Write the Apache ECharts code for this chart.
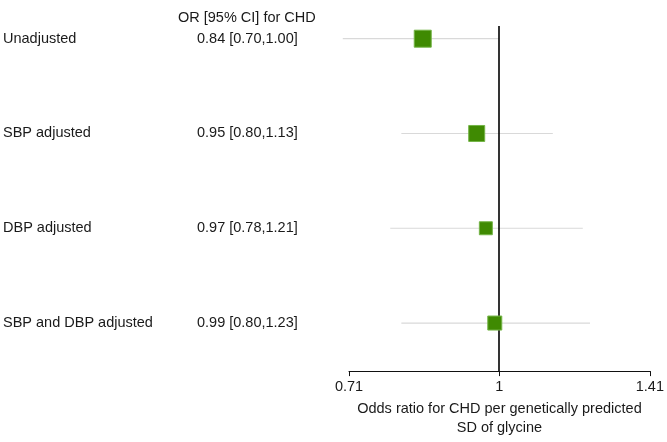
<!DOCTYPE html>
<html><head><meta charset="utf-8">
<script src="https://cdn.jsdelivr.net/npm/echarts@6/dist/echarts.min.js"></script>
<style>html,body{margin:0;padding:0;background:#fff}#c{width:667px;height:442px}</style>
</head><body><div id="c"></div>
<script>
const rowLabels = ['Unadjusted', 'SBP adjusted', 'DBP adjusted', 'SBP and DBP adjusted'];
const orValues = [0.84, 0.95, 0.97, 0.99];
const ciLower = [0.70, 0.80, 0.78, 0.80];
const ciUpper = [1.00, 1.13, 1.21, 1.23];
const xTicks = [0.71, 1, 1.41];
const headerText = 'OR [95% CI] for CHD';
const xAxisTitle = 'Odds ratio for CHD per genetically predicted\nSD of glycine';
const markerSizes = [17, 16, 13, 14];

const FONT = '"Liberation Sans", Arial, Helvetica, sans-serif';
const TXT = '#1a1a1a';
const rowIdx = rowLabels.map((_, i) => i);
const f2 = v => v.toFixed(2);

const chart = echarts.init(document.getElementById('c'), null, {renderer: 'canvas'});
chart.setOption({
  animation: false,
  backgroundColor: '#fff',
  textStyle: {fontFamily: FONT},
  title: {
    text: headerText, left: 173, top: 5,
    textStyle: {fontSize: 14.5, fontWeight: 'normal', color: TXT, fontFamily: FONT}
  },
  grid: {left: 346, right: 12, top: 26, bottom: 64, containLabel: false},
  xAxis: {
    type: 'log', logBase: 10, min: 0.71, max: 1.41, splitNumber: 1,
    axisLine: {show: true, onZero: false, lineStyle: {color: '#111', width: 1}},
    axisTick: {show: true, length: 5, customValues: xTicks, lineStyle: {color: '#111', width: 1}},
    axisLabel: {
      customValues: xTicks, margin: 8, fontSize: 14.5, color: TXT, fontFamily: FONT,
      formatter: v => String(+(+v).toFixed(2))
    },
    splitLine: {show: false},
    minorTick: {show: false},
    name: xAxisTitle, nameLocation: 'middle', nameGap: 22,
    nameTextStyle: {fontSize: 14.5, color: TXT, lineHeight: 19, fontFamily: FONT}
  },
  yAxis: {
    type: 'value', inverse: true, min: -0.134, max: 3.507,
    axisLine: {show: false}, axisTick: {show: false}, splitLine: {show: false},
    axisLabel: {
      customValues: rowIdx, margin: 46,
      formatter: v => {
        const i = Math.round(v);
        return '{a|' + rowLabels[i] + '}{b|' + f2(orValues[i]) + ' [' + f2(ciLower[i]) + ',' + f2(ciUpper[i]) + ']}';
      },
      rich: {
        a: {width: 194, align: 'left', fontSize: 14.5, color: TXT, fontFamily: FONT},
        b: {width: 106, align: 'left', fontSize: 14.5, color: TXT, fontFamily: FONT}
      }
    }
  },
  series: [
    {
      type: 'custom',
      data: rowIdx.map(i => [ciLower[i], ciUpper[i], i]),
      encode: {x: [0, 1], y: 2},
      renderItem: (params, api) => {
        const a = api.coord([api.value(0), api.value(2)]);
        const b = api.coord([api.value(1), api.value(2)]);
        return {type: 'line', shape: {x1: a[0], y1: a[1], x2: b[0], y2: b[1]},
          style: {stroke: '#d9d9d9', lineWidth: 1.2}};
      },
      z: 1
    },
    {
      type: 'scatter',
      data: rowIdx.map(i => [orValues[i], i]),
      symbol: 'rect',
      symbolSize: (val, p) => markerSizes[p.dataIndex],
      itemStyle: {color: '#3f8a02', borderColor: '#74b447', borderWidth: 1, opacity: 1},
      z: 3,
      markLine: {
        silent: true, symbol: 'none', label: {show: false},
        lineStyle: {color: '#000', width: 1.6, type: 'solid'},
        data: [{xAxis: 1}],
        z: 2
      }
    }
  ]
});
</script></body></html>
